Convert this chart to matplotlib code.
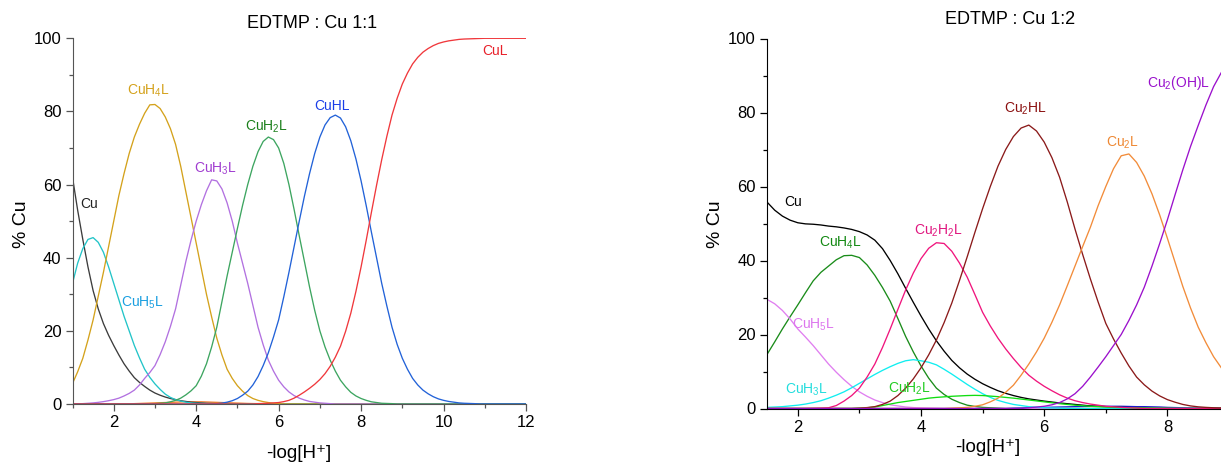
import numpy as np
import matplotlib
matplotlib.use('Agg')
import matplotlib.pyplot as plt
from matplotlib.ticker import MultipleLocator

plt.rcParams['font.family'] = ['Liberation Sans', 'DejaVu Sans']
plt.rcParams['mathtext.fontset'] = 'custom'
plt.rcParams['mathtext.rm'] = 'Liberation Sans'
plt.rcParams['mathtext.it'] = 'Liberation Sans:italic'


def pad(vals, n):
    # trailing zeros up to the grid length
    return vals + [0] * (n - len(vals))


# ---- EDTMP : Cu 1:1  (pH 1 .. 12, step 0.125) ----
ph1 = np.arange(1.0, 12.001, 0.125)
n1 = len(ph1)

cu_1 = pad([62, 53, 45, 37.5, 31, 26, 22, 18.8, 16, 13.4, 11, 9, 7.2, 5.9, 4.8, 3.8, 3.0,
            2.4, 1.9, 1.5, 1.2, 0.9, 0.7, 0.5, 0.4, 0.3, 0.2, 0.15, 0.1, 0.07, 0.05], n1)
cuh5l_1 = pad([33, 38.5, 42.5, 45, 45.5, 44.2, 41.5, 37.5, 33, 28.5, 24, 20, 16, 12.6, 9.5,
               7.3, 5.5, 4, 2.7, 1.8, 1.2, 0.8, 0.5, 0.3, 0.2, 0.15, 0.1], n1)
cuh4l_1 = pad([5.6, 8.8, 12.5, 17.5, 23, 29.5, 36, 43, 50, 57, 63, 68.5, 73, 76.5, 79.5,
               81.8, 81.9, 80.8, 78.5, 75.3, 71, 65, 58, 51, 44, 37, 30, 23.8, 18, 13.4,
               9.5, 7, 5, 3.5, 2.3, 1.5, 1.0, 0.65, 0.4, 0.2, 0.1], n1)
cuh3l_1 = pad([0, 0.05, 0.1, 0.2, 0.3, 0.45, 0.65, 0.9, 1.2, 1.6, 2.2, 2.9, 3.8, 5.2, 7, 8.6,
               10.5, 13.5, 17, 21.2, 26, 32.5, 39, 44.8, 50, 54.5, 58.3, 61.3, 61.0, 58.8,
               55, 50, 44, 38.5, 33, 27, 21, 16.2, 12, 9, 6.5, 4.7, 3.3, 2.3, 1.6, 1.1,
               0.7, 0.5, 0.3, 0.2, 0.1], n1)
cuh2l_1 = pad([0] * 16 + [0.1, 0.2, 0.3, 0.6, 1.0, 1.6, 2.5, 3.6, 5, 7.6, 11, 15.6, 21, 28,
                          35, 41.5, 48, 54.3, 60, 65, 69, 71.8, 73, 72.3, 70, 65.8, 60,
                          53.2, 46, 39, 32, 25.6, 20, 15.6, 12, 9, 6.5, 4.7, 3.2, 2.2, 1.5,
                          1.0, 0.6, 0.4, 0.2, 0.15, 0.1], n1)
cuhl_1 = pad([0] * 28 + [0.1, 0.25, 0.5, 0.9, 1.5, 2.4, 3.5, 5.2, 7.5, 10.5, 14, 18.3, 23,
                         29.3, 36, 43, 50, 56.8, 63, 68.5, 73, 76.3, 78.3, 79, 78.2, 75.8,
                         72, 67, 61, 54.2, 47, 40, 33, 26.8, 21, 16.3, 12.5, 9.5, 7, 5.2,
                         3.8, 2.8, 2, 1.4, 1, 0.7, 0.5, 0.3, 0.2, 0.15, 0.1], n1)
cul_1 = [0] * 36 + [0.1, 0.15, 0.2, 0.3, 0.4, 0.65, 1.0, 1.6, 2.4, 3.3, 4.3, 5.4, 6.7, 8.3,
                    10.3, 12.8, 15.8, 19.9, 24.8, 30.8, 37.5, 44.8, 52.4, 59.8, 66.8, 73.2,
                    79, 83.6, 87.5, 90.5, 93, 94.8, 96.2, 97.2, 98, 98.6, 99, 99.3, 99.5,
                    99.7, 99.8, 99.85, 99.9, 99.95, 100] + [100] * 8
minor_1 = pad([0] * 12 + [0.1, 0.15, 0.2, 0.25, 0.3, 0.35, 0.4, 0.45, 0.5, 0.55, 0.6, 0.6,
                          0.6, 0.6, 0.55, 0.5, 0.45, 0.4, 0.35, 0.3, 0.25, 0.2, 0.15, 0.12,
                          0.1, 0.07, 0.05], n1)

# ---- EDTMP : Cu 1:2  (pH 1.5 .. 9, step 0.125) ----
ph2 = np.arange(1.5, 9.001, 0.125)
n2 = len(ph2)

cu_2 = pad([55.8, 53.6, 52, 50.9, 50.2, 49.9, 49.8, 49.6, 49.3, 49.1, 48.8, 48.4, 47.8,
            46.9, 45.5, 43.2, 40, 36.4, 32.5, 28.7, 25, 21.5, 18.3, 15.5, 13, 11, 9.3,
            7.9, 6.7, 5.7, 4.8, 4.1, 3.5, 3, 2.6, 2.3, 2.0, 1.75, 1.5, 1.3, 1.1, 0.9,
            0.7, 0.6, 0.5, 0.4, 0.3, 0.25, 0.2, 0.15, 0.1, 0.07, 0.05], n2)
cuh4l_2 = pad([14.6, 18, 21.5, 24.8, 28, 31.3, 34.5, 36.8, 38.5, 40.2, 41.3, 41.4, 40.8,
               38.8, 36, 32.7, 29, 24.3, 19.5, 15.3, 11.5, 8.2, 5.5, 3.8, 2.5, 1.6, 0.9,
               0.55, 0.3, 0.2, 0.1], n2)
cuh5l_2 = pad([29.5, 28.3, 26.5, 24.2, 21.5, 19.3, 17, 14.5, 12, 9.8, 7.8, 6, 4.5, 3.3,
               2.3, 1.6, 1.0, 0.7, 0.4, 0.25, 0.15, 0.1, 0.05], n2)
cuh3l_2 = pad([0.3, 0.4, 0.5, 0.7, 0.9, 1.2, 1.6, 2.1, 2.8, 3.6, 4.5, 5.6, 6.8, 8, 9.2,
               10.3, 11.3, 12.2, 12.9, 13.2, 12.9, 12.5, 11.8, 10.6, 9.3, 7.9, 6.5, 5.2,
               4.0, 3, 2.2, 1.6, 1.1, 0.8, 0.5, 0.35, 0.2, 0.15, 0.1], n2)
cuh2l_2 = pad([0] * 12 + [0.1, 0.2, 0.4, 0.8, 1.2, 1.6, 1.9, 2.2, 2.5, 2.8, 3.0, 3.15, 3.3,
                          3.4, 3.5, 3.55, 3.5, 3.35, 3.2, 3.0, 2.8, 2.55, 2.3, 2.05, 1.8,
                          1.55, 1.3, 1.1, 0.9, 0.75, 0.6, 0.5, 0.4, 0.3, 0.25, 0.2, 0.15,
                          0.12, 0.1, 0.07, 0.05], n2)
cu2h2l_2 = pad([0] * 6 + [0.05, 0.1, 0.2, 0.8, 2, 3.5, 5.5, 8.5, 12, 16.5, 21.5, 26.8, 32,
                          36.6, 40.5, 43.3, 44.8, 44.6, 42.5, 39.3, 35.5, 30.8, 26, 22.3,
                          19, 16.1, 13.5, 11.1, 9, 7.4, 6, 4.8, 3.7, 2.8, 2.1, 1.6, 1.2,
                          0.9, 0.6, 0.45, 0.3, 0.2, 0.1], n2)
cu2hl_2 = pad([0] * 12 + [0.1, 0.25, 0.5, 1.1, 2, 3.5, 5.5, 8, 11, 14.5, 18.5, 23.2, 28.5,
                          34.6, 41, 47.6, 54, 60, 65.5, 70, 73.5, 75.8, 76.6, 75, 72, 67.8,
                          62.5, 55.8, 48.5, 41.6, 35, 28.8, 23, 18.8, 15, 11.5, 8.5, 6.4,
                          4.7, 3.4, 2.4, 1.7, 1.1, 0.7, 0.45, 0.3, 0.2, 0.15, 0.1], n2)
cu2l_2 = pad([0] * 24 + [0.1, 0.2, 0.3, 0.6, 1.0, 1.8, 2.8, 4.4, 6.3, 9, 12, 15.3, 19,
                         23.3, 28, 33.2, 38.5, 43.8, 49, 54.8, 60, 64.8, 68.3, 68.8, 66.5,
                         62.8, 58, 52.3, 46, 39.5, 33, 27.2, 22, 17.8, 14, 11, 8.5], n2)
cu2ohl_2 = pad([0] * 34 + [0.2, 0.4, 0.6, 1.0, 1.6, 2.6, 4.0, 6, 8.5, 11.2, 14, 17, 20,
                           23.8, 28, 32.8, 38.5, 44.6, 51, 57.8, 64.5, 70.8, 76.5, 82, 87,
                           90.8, 94], n2)
minor_2 = pad([0] * 32 + [0.1, 0.15, 0.2, 0.25, 0.3, 0.35, 0.4, 0.45, 0.5, 0.55, 0.6, 0.6,
                          0.6, 0.6, 0.6, 0.55, 0.5, 0.5, 0.45, 0.4, 0.3, 0.25, 0.2, 0.15,
                          0.1, 0.07, 0.05], n2)

W, H = 1221, 463
fig = plt.figure(figsize=(W / 100, H / 100), dpi=100)

ax1 = fig.add_axes([72.5 / W, (H - 404) / H, (526 - 72.5) / W, (404 - 38.3) / H])
ax2 = fig.add_axes([767 / W, (H - 408.5) / H, (1229 - 767) / W, (408.5 - 38.5) / H])

lw = 0.95
ax1.plot(ph1, minor_1, color='#f07a28', lw=lw)
ax1.plot(ph1, cu_1, color='#3c3c3c', lw=lw)
ax1.plot(ph1, cuh5l_1, color='#22c4c8', lw=lw)
ax1.plot(ph1, cuh4l_1, color='#d4a21c', lw=lw)
ax1.plot(ph1, cuh3l_1, color='#b271e0', lw=lw)
ax1.plot(ph1, cuh2l_1, color='#3da560', lw=lw)
ax1.plot(ph1, cuhl_1, color='#2262d8', lw=lw)
ax1.plot(ph1, cul_1, color='#f0383c', lw=lw)

ax2.plot(ph2, minor_2, color='#1a1ad0', lw=lw)
ax2.plot(ph2, cu_2, color='black', lw=lw)
ax2.plot(ph2, cuh4l_2, color='#1a8c1a', lw=lw)
ax2.plot(ph2, cuh5l_2, color='#e07ff0', lw=lw)
ax2.plot(ph2, cuh3l_2, color='#10eef0', lw=lw)
ax2.plot(ph2, cuh2l_2, color='#10dd10', lw=lw)
ax2.plot(ph2, cu2h2l_2, color='#f0157d', lw=lw)
ax2.plot(ph2, cu2hl_2, color='#8b1a1a', lw=lw)
ax2.plot(ph2, cu2l_2, color='#f28c3a', lw=lw)
ax2.plot(ph2, cu2ohl_2, color='#9b10cc', lw=lw)

ax1.set_xlim(1, 12)
ax2.set_xlim(1.5, 9.0)
for ax, sc in ((ax1, '#555555'), (ax2, 'black')):
    ax.set_ylim(0, 100)
    ax.spines['top'].set_visible(False)
    ax.spines['right'].set_visible(False)
    ax.spines['left'].set_color(sc)
    ax.spines['bottom'].set_color(sc)
    ax.xaxis.set_major_locator(MultipleLocator(2))
    ax.xaxis.set_minor_locator(MultipleLocator(1))
    ax.yaxis.set_major_locator(MultipleLocator(20))
    ax.yaxis.set_minor_locator(MultipleLocator(10))
    ax.tick_params(which='major', direction='out', length=5, width=0.9,
                   labelsize=12, colors=sc, labelcolor='black', pad=3)
    ax.tick_params(which='minor', direction='out', length=3, width=0.9, colors=sc)
    ax.patch.set_alpha(0)

fs = 10
ax1.text(11.25, 96.6, 'CuL', color='#e8202a', fontsize=fs, ha='center', va='center')
ax1.text(2.85, 85.6, r'CuH$\mathregular{_4}$L', color='#d4a21c', fontsize=fs, ha='center', va='center')
ax1.text(7.29, 81.6, 'CuHL', color='#1a3ee8', fontsize=fs, ha='center', va='center')
ax1.text(5.71, 75.9, r'CuH$\mathregular{_2}$L', color='#1a7f1a', fontsize=fs, ha='center', va='center')
ax1.text(4.47, 64.2, r'CuH$\mathregular{_3}$L', color='#a03cd0', fontsize=fs, ha='center', va='center')
ax1.text(1.41, 54.7, 'Cu', color='#222222', fontsize=fs, ha='center', va='center')
ax1.text(2.69, 27.8, r'CuH$\mathregular{_5}$L', color='#1a9fe0', fontsize=fs, ha='center', va='center')

ax2.text(1.92, 55.9, 'Cu', color='black', fontsize=fs, ha='center', va='center')
ax2.text(2.70, 44.9, r'CuH$\mathregular{_4}$L', color='#118811', fontsize=fs, ha='center', va='center')
ax2.text(2.26, 22.7, r'CuH$\mathregular{_5}$L', color='#dd77ee', fontsize=fs, ha='center', va='center')
ax2.text(2.14, 5.1, r'CuH$\mathregular{_3}$L', color='#22dddd', fontsize=fs, ha='center', va='center')
ax2.text(3.81, 5.3, r'CuH$\mathregular{_2}$L', color='#22cc22', fontsize=fs, ha='center', va='center')
ax2.text(4.28, 48.1, r'Cu$\mathregular{_2}$H$\mathregular{_2}$L', color='#e0157f', fontsize=fs, ha='center', va='center')
ax2.text(5.69, 81.1, r'Cu$\mathregular{_2}$HL', color='#8b1010', fontsize=fs, ha='center', va='center')
ax2.text(7.27, 71.7, r'Cu$\mathregular{_2}$L', color='#ee8833', fontsize=fs, ha='center', va='center')
ax2.text(8.18, 88.0, r'Cu$\mathregular{_2}$(OH)L', color='#9911cc', fontsize=fs, ha='center', va='center')

fig.text(312 / W, 1 - 24 / H, 'EDTMP : Cu 1:1', fontsize=13, ha='center', va='center')
fig.text(1010 / W, 1 - 20 / H, 'EDTMP : Cu 1:2', fontsize=13, ha='center', va='center')
fig.text(21 / W, 1 - 224 / H, '% Cu', fontsize=14, rotation=90, ha='center', va='center')
fig.text(715 / W, 1 - 224 / H, '% Cu', fontsize=14, rotation=90, ha='center', va='center')
fig.text(299 / W, 1 - 453 / H, '-log[H⁺]', fontsize=13.5, ha='center', va='center')
fig.text(988 / W, 1 - 448 / H, '-log[H⁺]', fontsize=13.5, ha='center', va='center')

fig.savefig('out.png', dpi=100)
